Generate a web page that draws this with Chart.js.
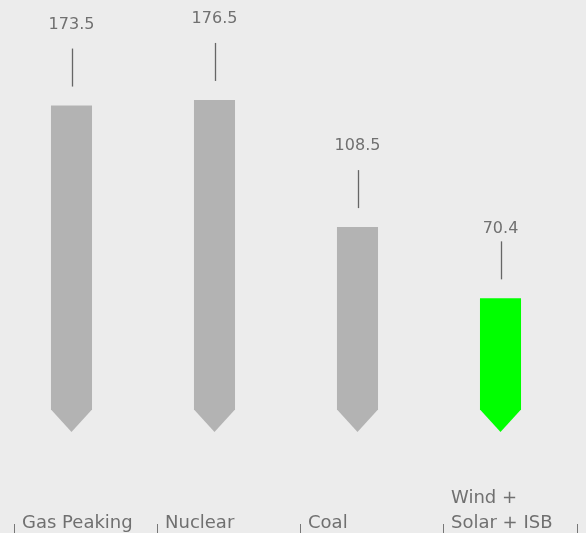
<!DOCTYPE html>
<html>
<head>
<meta charset="utf-8">
<script src="https://cdn.jsdelivr.net/npm/chart.js@4/dist/chart.umd.min.js"></script>
<style>
  html, body { margin: 0; padding: 0; background: #ececec; }
  #wrap { width: 586px; height: 533px; position: relative; }
</style>
</head>
<body>
<div id="wrap"><canvas id="c"></canvas></div>
<script>
// ---- data ----
const categories = [["Gas Peaking"], ["Nuclear"], ["Coal"], ["Wind +", "Solar + ISB"]];
const values = [173.5, 176.5, 108.5, 70.4];
const valueLabels = ["173.5", "176.5", "108.5", "70.4"];

// ---- style ----
const barColors = ["#b3b3b3", "#b3b3b3", "#b3b3b3", "#00ff00"];
const labelGaps = [24, 24, 24, 13]; // gap between value text centre and leader line top
const textColor = "#707070";
const FONT = "'DejaVu Sans', sans-serif";

const pointedBars = {
  id: "pointedBars",
  beforeDatasetDraw(chart, args) {
    const ctx = chart.ctx;
    const meta = args.meta;
    meta.data.forEach((el, i) => {
      const w = el.width, x = el.x, top = el.y, base = el.base;
      const tip = w * 0.5;
      ctx.save();
      ctx.fillStyle = barColors[i];
      ctx.beginPath();
      ctx.moveTo(x - w / 2, top);
      ctx.lineTo(x + w / 2, top);
      ctx.lineTo(x + w / 2, base - tip);
      ctx.lineTo(x, base + 2);
      ctx.lineTo(x - w / 2, base - tip);
      ctx.closePath();
      ctx.fill();
      ctx.restore();
    });
    return false;
  },
  afterDraw(chart) {
    const ctx = chart.ctx;
    const meta = chart.getDatasetMeta(0);
    const xs = chart.scales.x;
    ctx.save();
    meta.data.forEach((el, i) => {
      const x = el.x, top = el.y;
      ctx.strokeStyle = "#666";
      ctx.lineWidth = 1.3;
      ctx.beginPath();
      ctx.moveTo(Math.round(x) + 0.5, top - 57);
      ctx.lineTo(Math.round(x) + 0.5, top - 19);
      ctx.stroke();
      ctx.fillStyle = textColor;
      ctx.font = "16px " + FONT;
      ctx.textAlign = "center";
      ctx.textBaseline = "middle";
      ctx.fillText(valueLabels[i], x, top - 57 - labelGaps[i]);
    });
    const step = xs.getPixelForValue(1) - xs.getPixelForValue(0);
    const H = chart.height;
    ctx.strokeStyle = "#777";
    ctx.lineWidth = 1;
    const tickXs = [];
    for (let i = 0; i < categories.length; i++) {
      tickXs.push(xs.getPixelForValue(i) - step * 0.402);
    }
    tickXs.push(chart.chartArea.right + 5);
    tickXs.forEach(tx => {
      ctx.beginPath();
      ctx.moveTo(Math.round(tx) + 0.5, 524);
      ctx.lineTo(Math.round(tx) + 0.5, H);
      ctx.stroke();
    });
    ctx.fillStyle = textColor;
    ctx.font = "18px " + FONT;
    ctx.textAlign = "left";
    ctx.textBaseline = "alphabetic";
    categories.forEach((lines, i) => {
      const tx = tickXs[i] + 8;
      for (let k = 0; k < lines.length; k++) {
        const y = 527.5 - (lines.length - 1 - k) * 25;
        ctx.fillText(lines[k], tx, y);
      }
    });
    ctx.restore();
  }
};

new Chart(document.getElementById("c"), {
  type: "bar",
  data: {
    labels: categories.map(c => c.join(" ")),
    datasets: [{
      data: values,
      backgroundColor: barColors,
      borderWidth: 0,
      barPercentage: 0.287,
      categoryPercentage: 1.0
    }]
  },
  options: {
    responsive: true,
    maintainAspectRatio: false,
    animation: false,
    layout: { padding: { top: 56, bottom: 103, left: 0, right: 14 } },
    plugins: { legend: { display: false }, tooltip: { enabled: false } },
    scales: {
      x: { display: false, offset: true },
      y: { display: false, min: 0, max: 200 }
    }
  },
  plugins: [pointedBars]
});
</script>
</body>
</html>
